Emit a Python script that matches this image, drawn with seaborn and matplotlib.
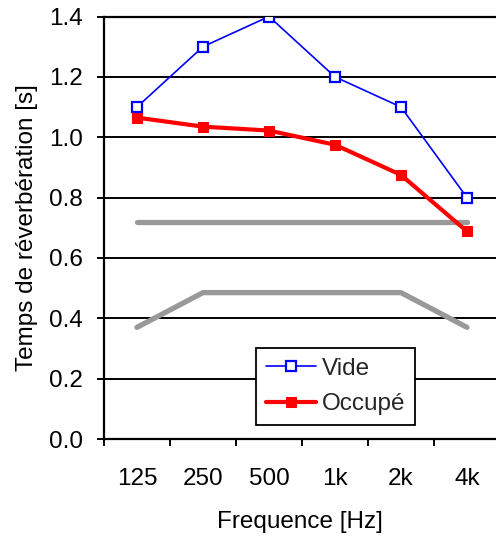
import numpy as np
import pandas as pd
import matplotlib
matplotlib.use("Agg")
import matplotlib.pyplot as plt
import seaborn as sns

# Octave bands and reverberation times
bands = ["125", "250", "500", "1k", "2k", "4k"]
vide = [1.10, 1.30, 1.40, 1.20, 1.10, 0.80]
occupe = [1.065, 1.035, 1.022, 0.975, 0.875, 0.688]
# Recommended range (grey reference curves)
upper_ref = [0.72, 0.72, 0.72, 0.72, 0.72, 0.72]
lower_ref = [0.37, 0.485, 0.485, 0.485, 0.485, 0.37]

sns.set_theme(style="white")
plt.rcParams["font.family"] = ["Liberation Sans", "DejaVu Sans"]

FS = 17.5

fig = plt.figure(figsize=(4.96, 5.37), dpi=100)
ax = fig.add_axes([104 / 496, 98 / 537, 392 / 496, 422.5 / 537])

df = pd.DataFrame({
    "band": bands,
    "Vide": vide,
    "Occupé": occupe,
    "upper": upper_ref,
    "lower": lower_ref,
})

grey = "#999999"
sns.lineplot(data=df, x="band", y="upper", ax=ax, color=grey, lw=3.8,
             sort=False, legend=False, zorder=2)
sns.lineplot(data=df, x="band", y="lower", ax=ax, color=grey, lw=3.8,
             sort=False, legend=False, zorder=2)
sns.lineplot(data=df, x="band", y="Occupé", ax=ax, color="#ff0000", lw=3.0,
             marker="s", markersize=7.5, markeredgecolor="#ff0000",
             markerfacecolor="#ff0000", sort=False, label="Occupé", zorder=4)
sns.lineplot(data=df, x="band", y="Vide", ax=ax, color="#0000ff", lw=1.2,
             marker="s", markersize=7, markeredgecolor="#0000ff",
             markeredgewidth=1.6, markerfacecolor="white", sort=False,
             label="Vide", zorder=5)

ax.set_xlim(-0.5, 5.44)
ax.set_ylim(0, 1.4)
ax.set_yticks(np.arange(0, 1.41, 0.2))
ax.set_yticklabels([f"{v:.1f}" for v in np.arange(0, 1.41, 0.2)])
ax.yaxis.grid(True, color="black", lw=1.4, zorder=1)
ax.xaxis.grid(False)

ax.set_xticks(range(len(bands)))
ax.set_xticklabels(bands)
ax.set_xticks(np.arange(-0.5, 5.5, 1.0), minor=True)
ax.tick_params(axis="x", which="major", length=0, pad=21, labelsize=FS,
               colors="black")
ax.tick_params(axis="x", which="minor", length=5, width=1.4, color="black",
               direction="out", bottom=True)
ax.tick_params(axis="y", which="major", length=5, width=1.4, color="black",
               direction="out", left=True, labelsize=FS, pad=10,
               colors="black")

for side in ["left", "bottom", "top"]:
    ax.spines[side].set_visible(True)
    ax.spines[side].set_color("black")
    ax.spines[side].set_linewidth(1.6)
ax.spines["right"].set_visible(False)

ax.set_xlabel("Frequence [Hz]", fontsize=FS, color="black", labelpad=15)
ax.set_ylabel("Temps de réverbération [s]", fontsize=FS, color="black",
              labelpad=8)

handles, labels = ax.get_legend_handles_labels()
order = [labels.index("Vide"), labels.index("Occupé")]
leg = ax.legend([handles[i] for i in order], [labels[i] for i in order],
                loc="lower left", bbox_to_anchor=(0.388, 0.033),
                fontsize=FS, frameon=True, fancybox=False, framealpha=1,
                edgecolor="black", handlelength=2.05, handletextpad=0.25,
                borderpad=0.4, labelspacing=0.55, borderaxespad=0)
leg.get_frame().set_linewidth(1.3)

fig.savefig("out.png", dpi=100)
